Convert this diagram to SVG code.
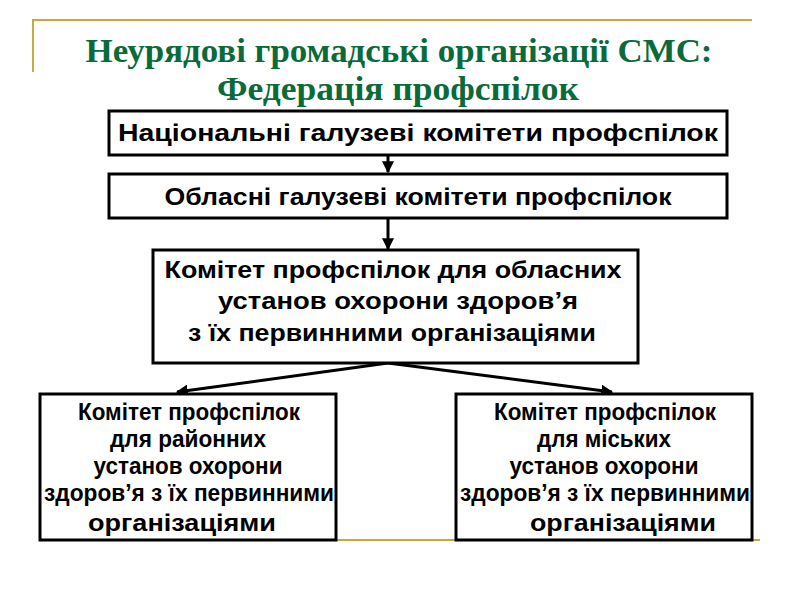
<svg xmlns="http://www.w3.org/2000/svg" width="800" height="600" viewBox="0 0 800 600">
<style>
.box{fill:#fff;stroke:#000;stroke-width:3}
.t{font-family:"Liberation Sans",Arial,sans-serif;font-weight:bold;font-size:24px;fill:#000;text-anchor:middle}
.s{font-family:"Liberation Sans",Arial,sans-serif;font-weight:bold;font-size:23px;fill:#000;text-anchor:middle}
.title{font-family:"Liberation Serif","Times New Roman",serif;font-weight:bold;font-size:34px;fill:#0b6a3a;text-anchor:middle}
.gold{stroke:#c9a93c;stroke-width:2;fill:none}
.con{stroke:#000;stroke-width:3;fill:none}
</style>
<defs>
<marker id="ah" viewBox="0 0 10 10" refX="9" refY="5" markerWidth="4" markerHeight="4" orient="auto" markerUnits="strokeWidth">
<path d="M0,0 L10,5 L0,10 z" fill="#000"/>
</marker>
</defs>
<rect width="800" height="600" fill="#fff"/>
<g id="decor">
<path class="gold" d="M33,72 V20 H752"/>
<path class="gold" d="M336,540 H760"/>
</g>
<g id="title">
<text class="title" x="399" y="62" textLength="627" lengthAdjust="spacingAndGlyphs">Неурядові громадські організації СМС:</text>
<text class="title" x="398" y="100" textLength="362" lengthAdjust="spacingAndGlyphs">Федерація профспілок</text>
</g>
<g id="connectors">
<line class="con" x1="388" y1="155" x2="388" y2="172" stroke-width="2" marker-end="url(#ah)"/>
<line class="con" x1="388" y1="218" x2="388" y2="249" stroke-width="2" marker-end="url(#ah)"/>
<line class="con" x1="388" y1="363" x2="177" y2="392" marker-end="url(#ah)"/>
<line class="con" x1="388" y1="363" x2="612" y2="392" marker-end="url(#ah)"/>
</g>
<g id="n1">
<rect class="box" x="109" y="111" width="618" height="44"/>
<text class="t" x="418" y="141" textLength="600" lengthAdjust="spacingAndGlyphs">Національні галузеві комітети профспілок</text>
</g>
<g id="n2">
<rect class="box" x="109" y="174" width="618" height="44"/>
<text class="t" x="418" y="205" textLength="507" lengthAdjust="spacingAndGlyphs">Обласні галузеві комітети профспілок</text>
</g>
<g id="n3">
<rect class="box" x="153" y="250" width="485" height="113"/>
<text class="t" x="393" y="278" textLength="457" lengthAdjust="spacingAndGlyphs">Комітет профспілок для обласних</text>
<text class="t" x="398" y="309" textLength="360" lengthAdjust="spacingAndGlyphs">установ охорони здоров’я</text>
<text class="t" x="392" y="341" textLength="408" lengthAdjust="spacingAndGlyphs">з їх первинними організаціями</text>
</g>
<g id="n4">
<rect class="box" x="40" y="394" width="296" height="146"/>
<text class="s" x="189" y="420" textLength="222" lengthAdjust="spacingAndGlyphs">Комітет профспілок</text>
<text class="s" x="188" y="447" textLength="156" lengthAdjust="spacingAndGlyphs">для районних</text>
<text class="s" x="188" y="474" textLength="189" lengthAdjust="spacingAndGlyphs">установ охорони</text>
<text class="s" x="189" y="501" textLength="290" lengthAdjust="spacingAndGlyphs">здоров’я з їх первинними</text>
<text class="s" x="182" y="531" textLength="188" lengthAdjust="spacingAndGlyphs">організаціями</text>
</g>
<g id="n5">
<rect class="box" x="456" y="394" width="296" height="146"/>
<text class="s" x="605" y="420" textLength="222" lengthAdjust="spacingAndGlyphs">Комітет профспілок</text>
<text class="s" x="604" y="447" textLength="134" lengthAdjust="spacingAndGlyphs">для міських</text>
<text class="s" x="604" y="474" textLength="189" lengthAdjust="spacingAndGlyphs">установ охорони</text>
<text class="s" x="605" y="501" textLength="290" lengthAdjust="spacingAndGlyphs">здоров’я з їх первинними</text>
<text class="s" x="623" y="531" textLength="186" lengthAdjust="spacingAndGlyphs">організаціями</text>
</g>
</svg>
